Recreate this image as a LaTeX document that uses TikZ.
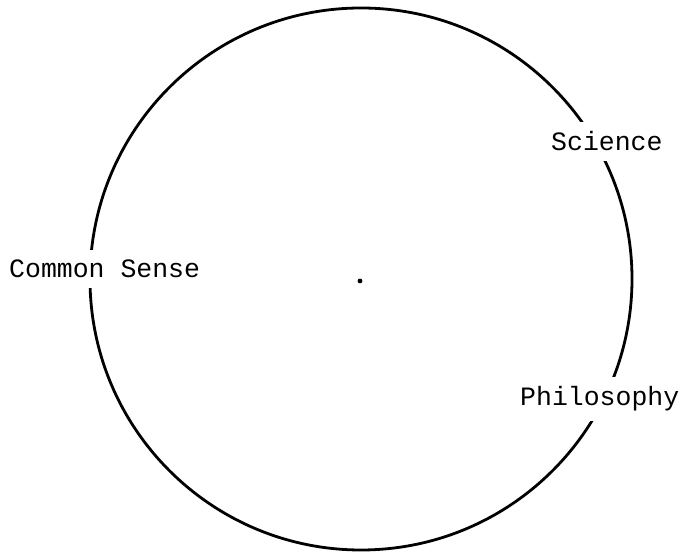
\documentclass[tikz,border=0pt]{standalone}
\usepackage{fontspec}
\setmonofont{Liberation Mono}
\begin{document}
\begin{tikzpicture}[x=1pt,y=1pt,
  lbl/.style={font=\ttfamily\fontsize{26.5}{30}\selectfont, fill=white, inner xsep=2pt, inner ysep=10pt, anchor=base west}]
\useasboundingbox (0,0) rectangle (680,553);
\coordinate (c) at (361,274);
\draw[line width=2.8pt] (c) circle[radius=271];
\fill (360,272) circle[radius=2.4];
\node[lbl] (cs) at (7,275) {Common Sense};
\node[lbl] (sc) at (549,402) {Science};
\node[lbl] (ph) at (518,147) {Philosophy};
\end{tikzpicture}
\end{document}
